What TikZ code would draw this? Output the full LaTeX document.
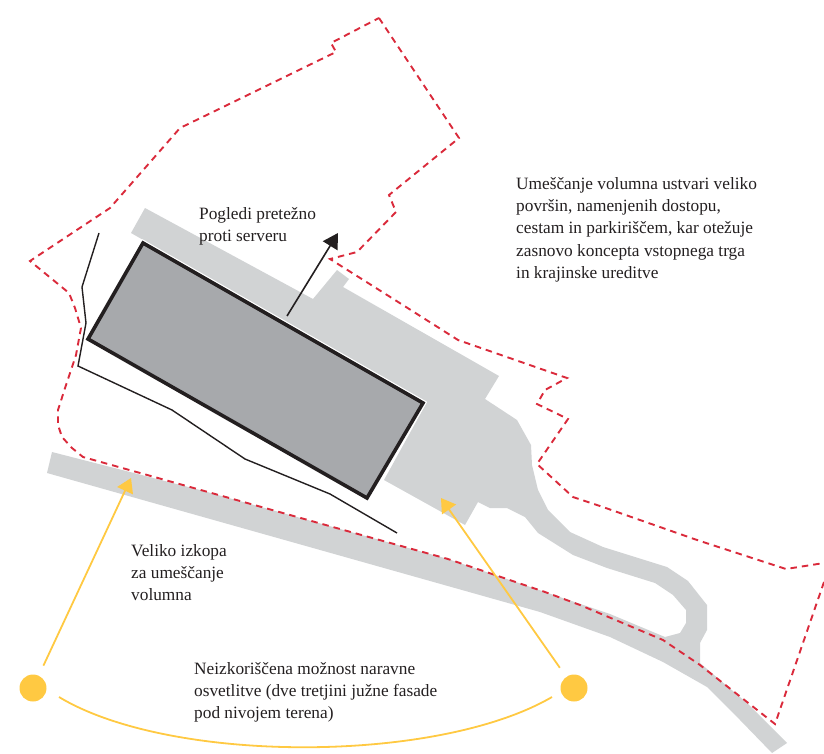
\documentclass[tikz,border=0pt]{standalone}
\usepackage{fontspec}
\setmainfont{Liberation Serif}
\usetikzlibrary{arrows.meta}

\definecolor{roadgrey}{HTML}{D1D3D4}
\definecolor{volgrey}{HTML}{A7A9AC}
\definecolor{inkblack}{HTML}{231F20}
\definecolor{bordred}{HTML}{DA2A3B}
\definecolor{sunyellow}{HTML}{FFC942}

\begin{document}
\begin{tikzpicture}[
  x=1pt, y=-1pt,
  road/.style   = {fill=roadgrey, draw=none},
  border/.style = {draw=bordred, line width=1.9pt, dash pattern=on 6.5pt off 5pt},
  cut/.style    = {draw=inkblack, line width=1.4pt, line join=miter},
  sun/.style    = {circle, fill=sunyellow, inner sep=0pt, minimum size=27pt},
  ray/.style    = {draw=sunyellow, line width=1.8pt},
  label/.style  = {anchor=north west, align=left, inner sep=0pt, text=inkblack,
                   font=\fontsize{17.3}{22.1}\selectfont},
]
  \useasboundingbox (0,0) rectangle (824,754);

  % grey surfaces
  \fill[road] (52,452) -- (200,490) -- (340,529) -- (448,559) -- (545,592) -- (610,614) -- (665,637)
    -- (700,663) -- (747,703) -- (787,743) -- (772,753) -- (740,720) -- (707,687) -- (663,662) -- (610,637)
    -- (540,612) -- (47,473) -- cycle;
  \fill[road] (145,208) -- (313,299) -- (337,270) -- (349,279) -- (343,287) -- (499,376) -- (485,399)
    -- (517,420) -- (531,445) -- (532,465) -- (538,490) -- (548,510) -- (570,532) -- (603,547)
    -- (667,567) -- (688,581) -- (707,605) -- (707,630) -- (700,643) -- (700,665) -- (665,637)
    -- (680,633) -- (686,623) -- (686,610) -- (673,595) -- (655,583) -- (607,568) -- (573,555)
    -- (538,533) -- (525,517) -- (507,508) -- (490,508) -- (478,502) -- (465,525) -- (384,480)
    -- (427,402) -- (131,233) -- cycle;

  % volume
  \draw[fill=volgrey, draw=inkblack, line width=3.6pt, line join=miter,
        preaction={draw=white, line width=6pt}]
    (143,243) -- (423,403) -- (367,498) -- (88,339) -- cycle;

  % excavation line
  \draw[cut] (99,233) -- (82,287) -- (86,323) -- (78,366) -- (172,410) -- (245,459) -- (330,494) -- (397,533);

  % plot border
  \draw[border] (379,18) -- (459,138) -- (389,195) -- (396,212) -- (357,252) -- (330,259) -- (395,300)
    -- (458,340) -- (567,378) -- (545,390) -- (537,404) -- (568,419) -- (537,464) -- (573,497) -- (600,506)
    -- (697,540) -- (786,569) -- (824,563);
  \draw[border] (824,582) -- (775,724) -- (700,665) -- (663,640) -- (580,605) -- (545,592) -- (448,559)
    -- (340,529) -- (83,457) -- (72,448) -- (62,437) -- (58,425) -- (58,410) -- (66,385) -- (76,355)
    -- (81,328) -- (75,308) -- (69,293) -- (30,261) -- (110,208) -- (180,128) -- (336,52) -- (331,43) -- (379,18);

  % view arrow
  \coordinate (viewfrom) at (287,316);
  \coordinate (viewto)   at (338,233);
  \draw[-{Triangle[length=15pt, width=17pt]}, inkblack, line width=1.6pt] (viewfrom) -- (viewto);

  % light
  \node[sun] (sunL) at (33,688) {};
  \node[sun] (sunR) at (574,688) {};
  \coordinate (hitL) at (131,478);
  \coordinate (hitR) at (441,498);
  \coordinate (arcL) at (59,697);
  \coordinate (arcR) at (552,697);
  \draw[ray, -{Triangle[length=14pt, width=17pt]}, shorten <=11pt] (sunL) -- (hitL);
  \draw[ray, -{Triangle[length=14pt, width=17pt]}, shorten <=11pt] (sunR) -- (hitR);
  \draw[ray] (arcL) .. controls (170,764) and (437,764) .. (arcR);

  % texts
  \node[label] (views)  at (199,207) {Pogledi pretežno\\proti serveru};
  \node[label] (access) at (516,177.5) {Umeščanje volumna ustvari veliko\\površin, namenjenih dostopu,\\cestam in parkiriščem, kar otežuje\\zasnovo koncepta vstopnega trga\\in krajinske ureditve};
  \node[label] (dig)    at (131,544) {Veliko izkopa\\za umeščanje\\volumna};
  \node[label] (unused) at (194,662) {Neizkoriščena možnost naravne\\osvetlitve (dve tretjini južne fasade\\pod nivojem terena)};
\end{tikzpicture}
\end{document}
